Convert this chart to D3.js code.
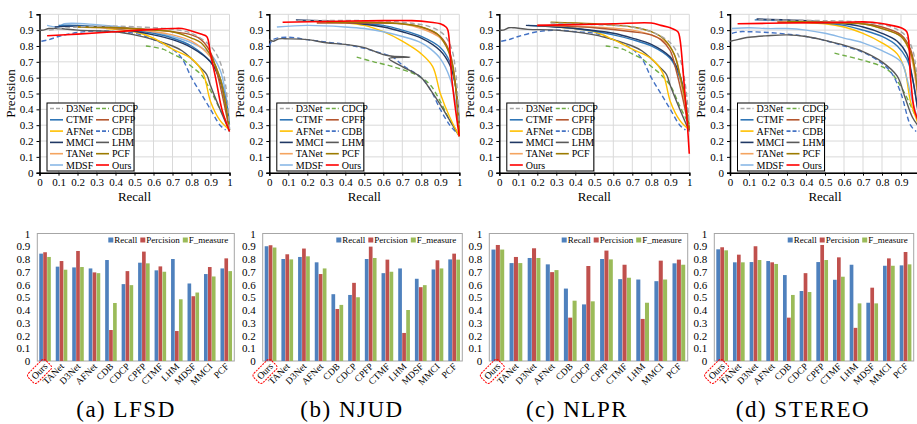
<!DOCTYPE html>
<html>
<head>
<meta charset="utf-8">
<script src="https://cdn.jsdelivr.net/npm/d3@7"></script>
<style>
  body { margin: 0; background: #fff; }
  svg { display: block; }
  svg text { font-family: "Liberation Serif", "DejaVu Serif", serif; }
</style>
</head>
<body>
<div class="root"></div>
<script>
// ---- data ----
const ticks01 = [0, 0.1, 0.2, 0.3, 0.4, 0.5, 0.6, 0.7, 0.8, 0.9, 1];
const datasets = ["(a) LFSD", "(b) NJUD", "(c) NLPR", "(d) STEREO"];
const legendOrder = ["D3Net", "CDCP", "CTMF", "CPFP", "AFNet", "CDB", "MMCI", "LHM", "TANet", "PCF", "MDSF", "Ours"];

const barCats = ["Ours", "TANet", "D3Net", "AFNet", "CDB", "CDCP", "CPFP", "CTMF", "LHM", "MDSF", "MMCI", "PCF"];
const barCatsNLPR = ["Ours", "TANet", "D3Net", "AFNet", "CDB", "CDCP", "CPFP", "CTMF", "LHM", "MMCI", "PCF"];
const barSeries = ["Recall", "Percision", "F_measure"];

const lfsdRecall    = [0.842, 0.740, 0.734, 0.726, 0.792, 0.603, 0.771, 0.711, 0.800, 0.608, 0.682, 0.726];
const lfsdPrecision = [0.853, 0.784, 0.863, 0.695, 0.243, 0.705, 0.858, 0.742, 0.235, 0.508, 0.737, 0.805];
const lfsdFmeasure  = [0.816, 0.716, 0.737, 0.689, 0.455, 0.595, 0.766, 0.700, 0.484, 0.537, 0.663, 0.705];

const njudRecall    = [0.900, 0.800, 0.816, 0.774, 0.524, 0.518, 0.800, 0.689, 0.726, 0.645, 0.718, 0.797];
const njudPrecision = [0.908, 0.837, 0.882, 0.682, 0.408, 0.613, 0.897, 0.795, 0.220, 0.579, 0.790, 0.842];
const njudFmeasure  = [0.890, 0.797, 0.821, 0.726, 0.440, 0.500, 0.808, 0.700, 0.400, 0.595, 0.726, 0.795];

const nlprRecall    = [0.874, 0.768, 0.808, 0.758, 0.568, 0.444, 0.800, 0.642, 0.639, 0.626, 0.766];
const nlprPrecision = [0.910, 0.816, 0.884, 0.697, 0.340, 0.745, 0.866, 0.755, 0.330, 0.787, 0.795];
const nlprFmeasure  = [0.874, 0.768, 0.808, 0.713, 0.473, 0.468, 0.797, 0.653, 0.457, 0.639, 0.755];

const stereoRecall    = [0.876, 0.774, 0.776, 0.784, 0.674, 0.549, 0.776, 0.637, 0.755, 0.457, 0.747, 0.750];
const stereoPrecision = [0.892, 0.834, 0.900, 0.774, 0.340, 0.689, 0.910, 0.813, 0.260, 0.575, 0.805, 0.855];
const stereoFmeasure  = [0.868, 0.774, 0.792, 0.761, 0.518, 0.541, 0.792, 0.661, 0.452, 0.452, 0.747, 0.758];

// PR curves, [recall, precision]
const prLFSD = {
  D3Net: [[0.05,0.9],[0.2,0.92],[0.4,0.925],[0.6,0.915],[0.7,0.905],[0.8,0.88],[0.9,0.8],[0.95,0.7],[0.98,0.55],[1,0.26]],
  CDCP: [[0.56,0.8],[0.65,0.78],[0.7,0.75],[0.75,0.72],[0.8,0.67],[0.85,0.62],[0.9,0.52],[0.95,0.4],[1,0.28]],
  CTMF: [[0.1,0.93],[0.2,0.93],[0.4,0.915],[0.6,0.88],[0.7,0.85],[0.8,0.8],[0.9,0.7],[0.95,0.6],[0.99,0.4],[1,0.27]],
  CPFP: [[0.3,0.92],[0.5,0.91],[0.7,0.89],[0.8,0.87],[0.85,0.84],[0.9,0.76],[0.93,0.65],[0.96,0.5],[1,0.27]],
  AFNet: [[0.35,0.91],[0.5,0.89],[0.6,0.85],[0.7,0.78],[0.8,0.72],[0.86,0.63],[0.9,0.45],[0.95,0.33],[1,0.27]],
  CDB: [[0.01,0.83],[0.05,0.84],[0.1,0.86],[0.2,0.885],[0.3,0.895],[0.4,0.89],[0.5,0.88],[0.6,0.84],[0.7,0.78],[0.75,0.72],[0.8,0.6],[0.85,0.5],[0.9,0.4],[0.95,0.3],[0.98,0.27]],
  MMCI: [[0.08,0.92],[0.2,0.925],[0.4,0.91],[0.6,0.87],[0.7,0.84],[0.8,0.79],[0.9,0.7],[0.95,0.58],[1,0.28]],
  LHM: [[0,0.9],[0.02,0.9],[0.05,0.91],[0.1,0.91],[0.2,0.9],[0.4,0.89],[0.5,0.87],[0.6,0.84],[0.7,0.8],[0.75,0.77],[0.8,0.72],[0.85,0.66],[0.88,0.62],[0.9,0.55],[0.95,0.4],[1,0.26]],
  TANet: [[0.2,0.92],[0.4,0.91],[0.6,0.89],[0.7,0.87],[0.8,0.83],[0.9,0.73],[0.95,0.6],[1,0.27]],
  PCF: [[0.2,0.92],[0.4,0.915],[0.6,0.9],[0.7,0.89],[0.8,0.85],[0.85,0.82],[0.9,0.74],[0.95,0.6],[1,0.27]],
  MDSF: [[0.04,0.93],[0.1,0.92],[0.13,0.94],[0.3,0.935],[0.5,0.91],[0.6,0.89],[0.7,0.86],[0.8,0.82],[0.9,0.75],[0.95,0.65],[0.98,0.5],[1,0.3]],
  Ours: [[0.04,0.865],[0.2,0.875],[0.4,0.89],[0.6,0.905],[0.7,0.91],[0.75,0.91],[0.8,0.895],[0.85,0.875],[0.88,0.86],[0.9,0.75],[0.93,0.58],[0.96,0.4],[1,0.26]]
};
const prNJUD = {
  D3Net: [[0.15,0.96],[0.5,0.96],[0.7,0.95],[0.85,0.92],[0.92,0.87],[0.96,0.78],[0.98,0.65],[1,0.3]],
  CDCP: [[0.46,0.73],[0.55,0.7],[0.65,0.67],[0.75,0.63],[0.8,0.6],[0.85,0.55],[0.9,0.45],[0.95,0.33],[1,0.24]],
  CTMF: [[0.15,0.96],[0.4,0.95],[0.6,0.93],[0.7,0.9],[0.8,0.86],[0.9,0.79],[0.95,0.7],[0.98,0.55],[1,0.3]],
  CPFP: [[0.25,0.945],[0.5,0.945],[0.7,0.94],[0.8,0.92],[0.9,0.86],[0.95,0.76],[0.98,0.55],[1,0.24]],
  AFNet: [[0.3,0.955],[0.5,0.93],[0.6,0.89],[0.7,0.83],[0.8,0.75],[0.86,0.67],[0.9,0.5],[0.95,0.35],[1,0.23]],
  CDB: [[0,0.8],[0.02,0.84],[0.1,0.855],[0.2,0.84],[0.3,0.825],[0.4,0.81],[0.5,0.785],[0.6,0.75],[0.65,0.73],[0.7,0.68],[0.8,0.6],[0.85,0.52],[0.9,0.4],[0.95,0.3],[0.98,0.26]],
  MMCI: [[0.14,0.965],[0.4,0.95],[0.6,0.92],[0.7,0.89],[0.8,0.85],[0.9,0.77],[0.95,0.68],[0.98,0.55],[1,0.3]],
  LHM: [[0,0.84],[0.02,0.83],[0.05,0.845],[0.1,0.845],[0.2,0.84],[0.3,0.82],[0.4,0.81],[0.5,0.79],[0.6,0.745],[0.65,0.735],[0.74,0.73],[0.63,0.72],[0.7,0.67],[0.8,0.6],[0.85,0.52],[0.9,0.43],[0.95,0.33],[1,0.23]],
  TANet: [[0.25,0.95],[0.5,0.95],[0.7,0.94],[0.8,0.91],[0.9,0.85],[0.95,0.75],[0.98,0.55],[1,0.25]],
  PCF: [[0.3,0.95],[0.5,0.95],[0.7,0.94],[0.8,0.92],[0.88,0.88],[0.93,0.8],[0.96,0.7],[0.98,0.55],[1,0.25]],
  MDSF: [[0.04,0.92],[0.2,0.93],[0.4,0.92],[0.5,0.91],[0.6,0.89],[0.7,0.86],[0.8,0.82],[0.85,0.78],[0.9,0.72],[0.95,0.6],[0.98,0.45],[1,0.25]],
  Ours: [[0.07,0.95],[0.3,0.955],[0.6,0.96],[0.75,0.96],[0.85,0.95],[0.9,0.94],[0.93,0.92],[0.94,0.9],[0.96,0.6],[0.98,0.4],[1,0.23]]
};
const prNLPR = {
  D3Net: [[0.27,0.945],[0.5,0.935],[0.7,0.92],[0.8,0.89],[0.9,0.82],[0.95,0.72],[0.98,0.55],[1,0.3]],
  CDCP: [[0.56,0.8],[0.65,0.78],[0.7,0.75],[0.75,0.72],[0.8,0.67],[0.85,0.62],[0.9,0.55],[0.95,0.42],[1,0.3]],
  CTMF: [[0.15,0.93],[0.4,0.91],[0.6,0.87],[0.7,0.84],[0.8,0.8],[0.9,0.72],[0.95,0.6],[0.98,0.45],[1,0.27]],
  CPFP: [[0.2,0.93],[0.5,0.915],[0.7,0.89],[0.8,0.87],[0.85,0.84],[0.9,0.77],[0.93,0.65],[0.96,0.5],[1,0.27]],
  AFNet: [[0.3,0.92],[0.5,0.89],[0.6,0.84],[0.7,0.78],[0.8,0.72],[0.86,0.63],[0.9,0.45],[0.95,0.33],[1,0.27]],
  CDB: [[0.01,0.83],[0.05,0.84],[0.1,0.86],[0.2,0.89],[0.3,0.9],[0.4,0.89],[0.5,0.88],[0.6,0.84],[0.7,0.78],[0.75,0.72],[0.8,0.6],[0.85,0.5],[0.9,0.4],[0.95,0.3],[0.98,0.27]],
  MMCI: [[0.14,0.93],[0.4,0.91],[0.6,0.88],[0.7,0.85],[0.8,0.81],[0.9,0.73],[0.95,0.62],[0.98,0.45],[1,0.27]],
  LHM: [[0,0.9],[0.02,0.9],[0.05,0.915],[0.08,0.915],[0.15,0.905],[0.3,0.9],[0.5,0.87],[0.6,0.84],[0.7,0.8],[0.75,0.77],[0.8,0.72],[0.85,0.66],[0.88,0.62],[0.9,0.55],[0.95,0.4],[1,0.26]],
  TANet: [[0.2,0.93],[0.5,0.92],[0.7,0.9],[0.8,0.87],[0.88,0.82],[0.93,0.72],[0.96,0.55],[1,0.28]],
  PCF: [[0.27,0.95],[0.5,0.94],[0.7,0.92],[0.8,0.89],[0.87,0.84],[0.92,0.75],[0.95,0.62],[0.98,0.45],[1,0.28]],
  Ours: [[0.2,0.93],[0.4,0.935],[0.6,0.94],[0.8,0.945],[0.85,0.93],[0.9,0.915],[0.94,0.89],[0.95,0.85],[0.97,0.6],[0.99,0.3],[1,0.12]]
};
const prSTEREO = {
  D3Net: [[0.15,0.965],[0.5,0.96],[0.7,0.95],[0.85,0.92],[0.92,0.87],[0.96,0.78],[0.98,0.65],[1,0.4]],
  CDCP: [[0.55,0.755],[0.6,0.74],[0.7,0.71],[0.8,0.67],[0.85,0.63],[0.88,0.58],[0.92,0.5],[0.96,0.4],[1,0.3]],
  CTMF: [[0.13,0.965],[0.4,0.955],[0.6,0.93],[0.7,0.9],[0.8,0.86],[0.88,0.8],[0.93,0.72],[0.96,0.6],[1,0.3]],
  CPFP: [[0.25,0.95],[0.5,0.945],[0.7,0.94],[0.8,0.92],[0.9,0.87],[0.95,0.78],[0.98,0.6],[1,0.3]],
  AFNet: [[0.25,0.955],[0.5,0.94],[0.6,0.92],[0.7,0.88],[0.8,0.82],[0.88,0.75],[0.92,0.65],[0.95,0.45],[1,0.28]],
  CDB: [[0.01,0.88],[0.05,0.89],[0.1,0.89],[0.2,0.885],[0.3,0.875],[0.4,0.86],[0.5,0.835],[0.6,0.8],[0.7,0.76],[0.8,0.69],[0.85,0.63],[0.9,0.5],[0.95,0.3],[0.98,0.26]],
  MMCI: [[0.14,0.97],[0.4,0.96],[0.6,0.94],[0.7,0.92],[0.8,0.88],[0.88,0.83],[0.93,0.75],[0.96,0.6],[1,0.3]],
  LHM: [[0,0.83],[0.02,0.835],[0.1,0.855],[0.2,0.865],[0.3,0.87],[0.4,0.86],[0.5,0.835],[0.6,0.805],[0.7,0.765],[0.8,0.7],[0.88,0.61],[0.92,0.48],[0.96,0.35],[1,0.28]],
  TANet: [[0.25,0.955],[0.5,0.95],[0.7,0.94],[0.8,0.91],[0.9,0.86],[0.95,0.75],[0.98,0.55],[1,0.3]],
  PCF: [[0.3,0.955],[0.5,0.95],[0.7,0.94],[0.8,0.91],[0.9,0.86],[0.95,0.76],[0.98,0.6],[1,0.3]],
  MDSF: [[0.01,0.91],[0.1,0.915],[0.2,0.91],[0.3,0.91],[0.4,0.9],[0.5,0.88],[0.6,0.85],[0.7,0.82],[0.8,0.77],[0.9,0.7],[0.93,0.6],[0.96,0.45],[1,0.3]],
  Ours: [[0.04,0.94],[0.3,0.945],[0.6,0.95],[0.75,0.95],[0.85,0.93],[0.9,0.915],[0.93,0.89],[0.95,0.6],[0.97,0.4],[1,0.3]]
};

// ---- styles ----
const lineStyle = {
  D3Net: { c: "#a6a6a6", d: "5,3" },
  CDCP: { c: "#70ad47", d: "5,3" },
  CTMF: { c: "#2e75b6", d: null },
  CPFP: { c: "#b4552d", d: null },
  AFNet: { c: "#ffc000", d: null },
  CDB: { c: "#4472c4", d: "5,3" },
  MMCI: { c: "#203864", d: null },
  LHM: { c: "#595959", d: null },
  TANet: { c: "#f4a460", d: null },
  PCF: { c: "#9c7b00", d: null },
  MDSF: { c: "#8ab8e6", d: null },
  Ours: { c: "#ff0000", d: null }
};
const barColor = { Recall: "#4f81bd", Percision: "#c0504d", F_measure: "#9bbb59" };
const drawOrder = ["CDCP", "CDB", "LHM", "AFNet", "MDSF", "CTMF", "MMCI", "TANet", "CPFP", "PCF", "D3Net", "Ours"];

const svg = d3.select("div.root").append("svg").attr("width", 917).attr("height", 424);

const prLeft = [39.5, 269.3, 499.3, 730];
const prW = 190;
const prTop = 14.3, prBottom = 172.7;

const barLeft = [37.3, 262.7, 489.3, 714.3];
const barRight = [234.3, 462.3, 687.7, 913.7];
const barTop = 233.5, barBottom = 361;

const prData = [prLFSD, prNJUD, prNLPR, prSTEREO];
const barData = [
  { cats: barCats, vals: [lfsdRecall, lfsdPrecision, lfsdFmeasure] },
  { cats: barCats, vals: [njudRecall, njudPrecision, njudFmeasure] },
  { cats: barCatsNLPR, vals: [nlprRecall, nlprPrecision, nlprFmeasure] },
  { cats: barCats, vals: [stereoRecall, stereoPrecision, stereoFmeasure] }
];
const captionX = [126, 352, 577, 803];
const fmt = d => (d === 0 ? "0" : d === 1 ? "1" : d3.format(".1f")(d));
const serif = "Liberation Serif, DejaVu Serif, serif";

prData.forEach((curves, p) => {
  const x = d3.scaleLinear().domain([0, 1]).range([prLeft[p], prLeft[p] + prW]);
  const y = d3.scaleLinear().domain([0, 1]).range([prBottom, prTop]);
  const g = svg.append("g");

  // grid
  g.selectAll("line.vg").data(ticks01).enter().append("line")
    .attr("x1", d => x(d)).attr("x2", d => x(d)).attr("y1", prTop).attr("y2", prBottom)
    .attr("stroke", "#d9d9d9").attr("stroke-width", 1);
  g.selectAll("line.hg").data(ticks01).enter().append("line")
    .attr("x1", x(0)).attr("x2", x(1)).attr("y1", d => y(d)).attr("y2", d => y(d))
    .attr("stroke", "#d9d9d9").attr("stroke-width", 1);

  // axes (the last panel runs off the page, so its "1" label is not shown)
  const xTicks = p === 3 ? ticks01.slice(0, 10) : ticks01;
  const xa = g.append("g").attr("transform", `translate(0,${prBottom})`)
    .call(d3.axisBottom(x).tickValues(xTicks).tickFormat(fmt).tickSize(3));
  const ya = g.append("g").attr("transform", `translate(${prLeft[p]},0)`)
    .call(d3.axisLeft(y).tickValues(ticks01).tickFormat(fmt).tickSize(3));
  [xa, ya].forEach(a => {
    a.attr("font-family", serif);
    a.select(".domain").attr("stroke", "#000").attr("stroke-width", 1.5);
    a.selectAll(".tick line").attr("stroke", "#000");
    a.selectAll("text").attr("font-size", 11).attr("fill", "#000");
  });

  g.append("text").attr("x", x(0.5)).attr("y", 201).attr("text-anchor", "middle")
    .attr("font-size", 13).text("Recall");
  g.append("text").attr("transform", `translate(${prLeft[p] - 25},${y(0.5)}) rotate(-90)`)
    .attr("text-anchor", "middle").attr("font-size", 13).text("Precision");

  // curves
  const line = d3.line().x(d => x(d[0])).y(d => y(d[1])).curve(d3.curveCatmullRom.alpha(0.5));
  drawOrder.filter(m => curves[m]).forEach(m => {
    g.append("path").datum(curves[m]).attr("d", line)
      .attr("fill", "none").attr("stroke", lineStyle[m].c)
      .attr("stroke-width", m === "Ours" ? 1.6 : 1.4)
      .attr("stroke-dasharray", lineStyle[m].d);
  });

  // legend
  const lx = prLeft[p] + 7.5, ly = 103;
  g.append("rect").attr("x", lx).attr("y", ly).attr("width", 87).attr("height", 68)
    .attr("fill", "#fff").attr("stroke", "#000").attr("stroke-width", 1);
  legendOrder.filter(m => curves[m]).forEach((m, i) => {
    const col = i % 2, row = Math.floor(i / 2);
    const cx = lx + 3 + col * 46, cy = ly + 5.5 + row * 11.3;
    g.append("line").attr("x1", cx).attr("x2", cx + 13).attr("y1", cy).attr("y2", cy)
      .attr("stroke", lineStyle[m].c).attr("stroke-width", 1.6)
      .attr("stroke-dasharray", lineStyle[m].d ? "4,2" : null);
    g.append("text").attr("x", cx + 16).attr("y", cy + 3.5).attr("font-size", 10).text(m);
  });
});

barData.forEach((bd, p) => {
  const x0 = d3.scaleBand().domain(bd.cats).range([barLeft[p], barRight[p]]).paddingInner(0.28).paddingOuter(0.12);
  const x1 = d3.scaleBand().domain(barSeries).range([0, x0.bandwidth()]);
  const y = d3.scaleLinear().domain([0, 1]).range([barBottom, barTop]);
  const g = svg.append("g");

  g.append("rect").attr("x", barLeft[p]).attr("y", barTop)
    .attr("width", barRight[p] - barLeft[p]).attr("height", barBottom - barTop)
    .attr("fill", "none").attr("stroke", "#a6a6a6").attr("stroke-width", 1);

  const ya = g.append("g").attr("transform", `translate(${barLeft[p]},0)`)
    .call(d3.axisLeft(y).tickValues(ticks01).tickFormat(fmt).tickSize(0).tickPadding(7));
  ya.attr("font-family", serif);
  ya.select(".domain").remove();
  ya.selectAll("text").attr("font-size", 11).attr("fill", "#000");

  barSeries.forEach((s, si) => {
    g.selectAll(null).data(bd.vals[si]).enter().append("rect")
      .attr("x", (d, i) => x0(bd.cats[i]) + x1(s))
      .attr("y", d => y(d))
      .attr("width", x1.bandwidth() - 0.3)
      .attr("height", d => barBottom - y(d))
      .attr("fill", barColor[s]);
  });

  // category labels
  bd.cats.forEach(c => {
    const cx = x0(c) + x0.bandwidth() / 2 + 3;
    const t = g.append("text").attr("transform", `translate(${cx},${barBottom + 6}) rotate(-45)`)
      .attr("text-anchor", "end").attr("font-size", 9.5).text(c);
    if (c === "Ours") {
      const w = t.node().getComputedTextLength();
      g.append("rect").attr("transform", `translate(${cx},${barBottom + 6}) rotate(-45)`)
        .attr("x", -w - 3).attr("y", -9.5).attr("width", w + 6).attr("height", 13).attr("rx", 3)
        .attr("fill", "none").attr("stroke", "#ff0000").attr("stroke-width", 1)
        .attr("stroke-dasharray", "2,1");
    }
  });

  // legend, laid out from the right edge
  const lg = g.append("g");
  let lx = 0;
  barSeries.forEach(s => {
    lg.append("rect").attr("x", lx).attr("y", 237.5).attr("width", 5).attr("height", 5).attr("fill", barColor[s]);
    const t = lg.append("text").attr("x", lx + 6).attr("y", 242.8).attr("font-size", 9).text(s);
    lx += 6 + t.node().getComputedTextLength() + 3;
  });
  lg.attr("transform", `translate(${barRight[p] - 3 - lx},0)`);

  g.append("text").attr("x", captionX[p]).attr("y", 417).attr("text-anchor", "middle")
    .attr("font-size", 23).attr("letter-spacing", 1.5).text(datasets[p]);
});
</script>
</body>
</html>
